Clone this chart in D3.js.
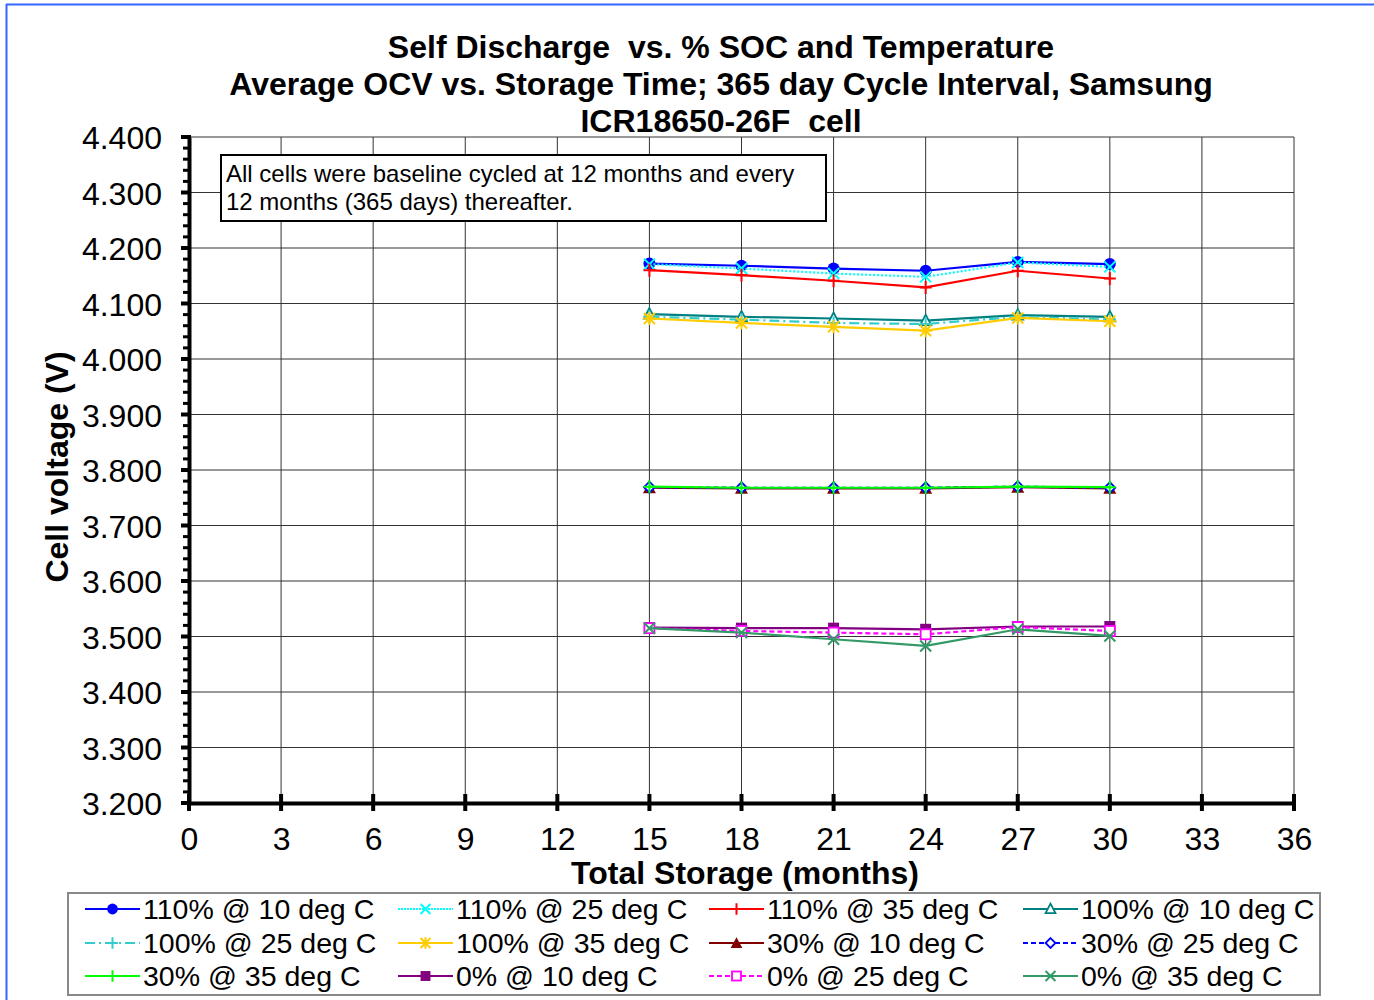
<!DOCTYPE html>
<html><head><meta charset="utf-8">
<script src="https://cdn.jsdelivr.net/npm/d3@7"></script>
<style>body{margin:0;background:#fff}svg{display:block}text{font-family:"Liberation Sans",Arial,sans-serif;fill:#000}</style>
</head><body><svg id="c" width="1374" height="1000"></svg>
<script>
const months = [15, 18, 21, 24, 27, 30];
const seriesNames = ["110% @ 10 deg C","110% @ 25 deg C","110% @ 35 deg C","100% @ 10 deg C",
  "100% @ 25 deg C","100% @ 35 deg C","30% @ 10 deg C","30% @ 25 deg C",
  "30% @ 35 deg C","0% @ 10 deg C","0% @ 25 deg C","0% @ 35 deg C"];
const v110_10 = [4.172, 4.168, 4.163, 4.159, 4.175, 4.171];
const v110_25 = [4.171, 4.163, 4.154, 4.148, 4.174, 4.166];
const v110_35 = [4.160, 4.151, 4.141, 4.129, 4.159, 4.145];
const v100_10 = [4.081, 4.076, 4.073, 4.069, 4.079, 4.076];
const v100_25 = [4.076, 4.071, 4.065, 4.063, 4.076, 4.071];
const v100_35 = [4.073, 4.065, 4.058, 4.051, 4.074, 4.068];
const v30_10 = [3.768, 3.767, 3.767, 3.767, 3.769, 3.767];
const v30_25 = [3.769, 3.768, 3.768, 3.768, 3.770, 3.768];
const v30_35 = [3.770, 3.768, 3.768, 3.768, 3.770, 3.769];
const v0_10 = [3.516, 3.515, 3.515, 3.513, 3.518, 3.518];
const v0_25 = [3.515, 3.510, 3.507, 3.504, 3.517, 3.510];
const v0_35 = [3.515, 3.507, 3.495, 3.483, 3.513, 3.501];
const seriesValues = [v110_10,v110_25,v110_35,v100_10,v100_25,v100_35,v30_10,v30_25,v30_35,v0_10,v0_25,v0_35];
const xTicks = [0,3,6,9,12,15,18,21,24,27,30,33,36];
const yTicks = [3.2,3.3,3.4,3.5,3.6,3.7,3.8,3.9,4.0,4.1,4.2,4.3,4.4];
const titleLines = ["Self Discharge  vs. % SOC and Temperature","Average OCV vs. Storage Time; 365 day Cycle Interval, Samsung","ICR18650-26F  cell"];
const noteLines = ["All cells were baseline cycled at 12 months and every","12 months (365 days) thereafter."];

const styles = [
  {c:"#0000ff", dash:null, m:"circle"},
  {c:"#00ffff", dash:"2,2", m:"x"},
  {c:"#ff0000", dash:null, m:"plus"},
  {c:"#008080", dash:null, m:"triOpen"},
  {c:"#33cccc", dash:"10,4,2,4", m:"plus"},
  {c:"#ffcc00", dash:null, m:"star"},
  {c:"#800000", dash:null, m:"tri"},
  {c:"#0000ff", dash:"5,3", m:"diamondOpen"},
  {c:"#00ff00", dash:null, m:"plus"},
  {c:"#800080", dash:null, m:"square"},
  {c:"#ff00ff", dash:"5,3", m:"squareOpen"},
  {c:"#339966", dash:null, m:"x"}
];

const svg = d3.select("#c");
// page border
svg.append("line").attr("x1",6).attr("y1",4.5).attr("x2",1374).attr("y2",4.5).attr("stroke","#3366ff").attr("stroke-width",2);
svg.append("line").attr("x1",6.5).attr("y1",4).attr("x2",6.5).attr("y2",1000).attr("stroke","#3366ff").attr("stroke-width",2);

const x = d3.scaleLinear().domain([0,36]).range([189,1294]);
const y = d3.scaleLinear().domain([3.2,4.4]).range([803,137]);

// title
svg.append("g").selectAll("text").data(titleLines).join("text")
  .attr("x",721).attr("y",(d,i)=>58+i*37).attr("text-anchor","middle")
  .attr("font-size",32).attr("font-weight","bold").style("white-space","pre").text(d=>d);

// grid
const g = svg.append("g");
g.selectAll(".gx").data(xTicks.slice(1)).join("line")
  .attr("x1",d=>x(d)).attr("x2",d=>x(d)).attr("y1",y(4.4)).attr("y2",y(3.2)).attr("stroke","#333").attr("stroke-width",1);
g.selectAll(".gy").data(yTicks.slice(1)).join("line")
  .attr("x1",x(0)).attr("x2",x(36)).attr("y1",d=>y(d)).attr("y2",d=>y(d)).attr("stroke","#333").attr("stroke-width",1);

// annotation
svg.append("rect").attr("x",221).attr("y",155).attr("width",605).attr("height",66).attr("fill","#fff").attr("stroke","#000").attr("stroke-width",2);
svg.append("g").selectAll("text").data(noteLines).join("text")
  .attr("x",226).attr("y",(d,i)=>182+i*28).attr("font-size",24).text(d=>d);

// y axis
const yMinor = d3.range(3.2,4.4001,0.02);
svg.append("g").selectAll("line").data(yMinor).join("line")
  .attr("x1",x(0)-6).attr("x2",x(0)).attr("y1",d=>y(d)).attr("y2",d=>y(d)).attr("stroke","#000").attr("stroke-width",3);
const yAxis = d3.axisLeft(y).tickValues(yTicks).tickFormat(d3.format(".3f")).tickSize(0).tickPadding(27);
const ya = svg.append("g").attr("transform",`translate(${x(0)},0)`).call(yAxis);
ya.select(".domain").attr("stroke","#000").attr("stroke-width",4);
ya.selectAll("text").attr("font-size",32).attr("font-family","Liberation Sans, Arial, sans-serif").attr("dy","0.36em");
svg.append("g").selectAll("line").data(yTicks).join("line")
  .attr("x1",x(0)-8).attr("x2",x(0)+2).attr("y1",d=>y(d)).attr("y2",d=>y(d)).attr("stroke","#000").attr("stroke-width",4);

// x axis
const xAxis = d3.axisBottom(x).tickValues(xTicks).tickSize(0).tickPadding(24);
const xa = svg.append("g").attr("transform",`translate(0,${y(3.2)})`).call(xAxis);
xa.select(".domain").attr("stroke","#000").attr("stroke-width",4);
xa.selectAll("text").attr("font-size",32).attr("font-family","Liberation Sans, Arial, sans-serif");
svg.append("g").selectAll("line").data(xTicks).join("line")
  .attr("x1",d=>x(d)).attr("x2",d=>x(d)).attr("y1",y(3.2)-9).attr("y2",y(3.2)+8).attr("stroke","#000").attr("stroke-width",4);

// axis titles
svg.append("text").attr("x",745).attr("y",884).attr("text-anchor","middle").attr("font-size",32).attr("font-weight","bold").text("Total Storage (months)");
svg.append("text").attr("transform","translate(68,467) rotate(-90)").attr("text-anchor","middle").attr("font-size",32).attr("font-weight","bold").text("Cell voltage (V)");

// markers
function marker(sel, type, c, cx, cy, s){
  const k = s||1;
  switch(type){
    case "circle": sel.append("circle").attr("cx",cx).attr("cy",cy).attr("r",6*k).attr("fill",c); break;
    case "x": sel.append("path").attr("d",`M${cx-5.5*k},${cy-5.5*k}L${cx+5.5*k},${cy+5.5*k}M${cx-5.5*k},${cy+5.5*k}L${cx+5.5*k},${cy-5.5*k}`).attr("stroke",c).attr("stroke-width",2).attr("fill","none"); break;
    case "plus": sel.append("path").attr("d",`M${cx-6*k},${cy}L${cx+6*k},${cy}M${cx},${cy-6.5*k}L${cx},${cy+6.5*k}`).attr("stroke",c).attr("stroke-width",2).attr("fill","none"); break;
    case "star": sel.append("path").attr("d",`M${cx-6.5*k},${cy}L${cx+6.5*k},${cy}M${cx},${cy-6.5*k}L${cx},${cy+6.5*k}M${cx-5.5*k},${cy-5.5*k}L${cx+5.5*k},${cy+5.5*k}M${cx-5.5*k},${cy+5.5*k}L${cx+5.5*k},${cy-5.5*k}`).attr("stroke",c).attr("stroke-width",2).attr("fill","none"); break;
    case "tri": sel.append("path").attr("d",`M${cx},${cy-6.5*k}L${cx+6.5*k},${cy+5.5*k}L${cx-6.5*k},${cy+5.5*k}Z`).attr("fill",c); break;
    case "triOpen": sel.append("path").attr("d",`M${cx},${cy-6*k}L${cx+5.5*k},${cy+4.5*k}L${cx-5.5*k},${cy+4.5*k}Z`).attr("fill","#fff").attr("stroke",c).attr("stroke-width",1.8); break;
    case "diamondOpen": sel.append("path").attr("d",`M${cx},${cy-5.5*k}L${cx+5.5*k},${cy}L${cx},${cy+5.5*k}L${cx-5.5*k},${cy}Z`).attr("fill","#fff").attr("stroke",c).attr("stroke-width",1.8); break;
    case "square": sel.append("rect").attr("x",cx-5.5*k).attr("y",cy-5.5*k).attr("width",11*k).attr("height",11*k).attr("fill",c); break;
    case "squareOpen": sel.append("rect").attr("x",cx-5*k).attr("y",cy-5*k).attr("width",10*k).attr("height",10*k).attr("fill","#fff").attr("stroke",c).attr("stroke-width",1.8); break;
  }
}

const line = d3.line().x(d=>x(d[0])).y(d=>y(d[1]));
const plot = svg.append("g");
seriesValues.forEach((vals,i)=>{
  const st = styles[i];
  const pts = months.map((m,j)=>[m,vals[j]]);
  const gg = plot.append("g");
  gg.append("path").datum(pts).attr("d",line).attr("fill","none").attr("stroke",st.c).attr("stroke-width",2.2)
    .attr("stroke-dasharray",st.dash);
  pts.forEach(p=>marker(gg, st.m, st.c, x(p[0]), y(p[1])));
});

// legend
svg.append("rect").attr("x",68).attr("y",893).attr("width",1252).attr("height",102).attr("fill","#fff").attr("stroke","#888").attr("stroke-width",2);
const colX = [85, 398, 709, 1023];
const rowY = [909, 943, 976];
seriesNames.forEach((n,i)=>{
  const cx = colX[i%4], cy = rowY[Math.floor(i/4)];
  const st = styles[i];
  const lg = svg.append("g");
  lg.append("line").attr("x1",cx).attr("x2",cx+55).attr("y1",cy).attr("y2",cy).attr("stroke",st.c).attr("stroke-width",2).attr("stroke-dasharray",st.dash ? (st.dash==="2,2"?"2,1":st.dash) : null);
  marker(lg, st.m, st.c, cx+27.5, cy, 0.9);
  lg.append("text").attr("x",cx+58).attr("y",cy+10).attr("font-size",28.5).text(n);
});
</script></body></html>
